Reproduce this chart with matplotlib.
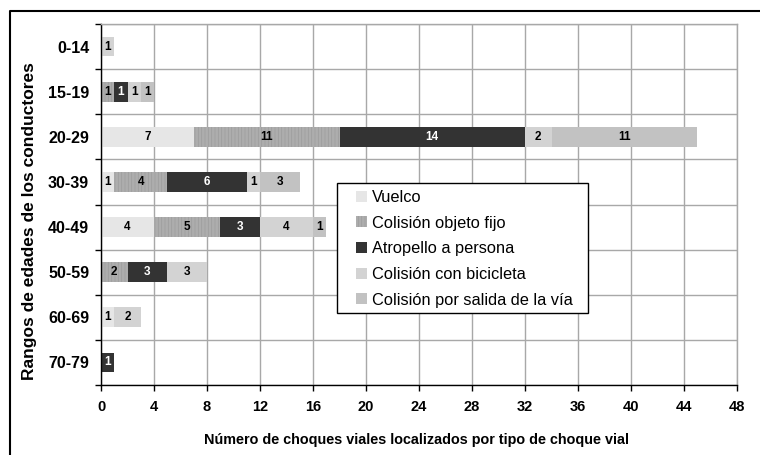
import matplotlib
matplotlib.use('Agg')
import matplotlib.pyplot as plt
from matplotlib.patches import Rectangle
from matplotlib.lines import Line2D
from matplotlib import font_manager

age_groups = ['0-14', '15-19', '20-29', '30-39', '40-49', '50-59', '60-69', '70-79']
series_names = ['Vuelco', 'Colisión objeto fijo', 'Atropello a persona',
                'Colisión con bicicleta', 'Colisión por salida de la vía']
vuelco = [0, 0, 7, 1, 4, 0, 1, 0]
objeto_fijo = [0, 1, 11, 4, 5, 2, 0, 0]
atropello = [0, 1, 14, 6, 3, 3, 0, 1]
bicicleta = [1, 1, 2, 1, 4, 3, 2, 0]
salida_via = [0, 1, 11, 3, 1, 0, 0, 0]
x_ticks = list(range(0, 49, 4))

series_values = [vuelco, objeto_fijo, atropello, bicicleta, salida_via]
colors = ['#e6e6e6', '#adadad', '#333333', '#d3d3d3', '#c2c2c2']
hatches = [None, '|||||', None, None, None]
text_colors = ['black', 'black', 'white', 'black', 'black']

plt.rcParams['font.family'] = ['Liberation Sans', 'DejaVu Sans']
plt.rcParams['hatch.linewidth'] = 0.5

W, H = 760, 455
fig = plt.figure(figsize=(W / 100, H / 100), dpi=100)
ax = fig.add_axes([101 / W, (H - 385) / H, (737 - 101) / W, (385 - 24) / H])

ypos = list(range(len(age_groups)))
left = [0] * len(age_groups)
handles = []
for vals, name, col, hat, tc in zip(series_values, series_names, colors, hatches, text_colors):
    if hat:
        kw = dict(hatch=hat, edgecolor='#9c9c9c', linewidth=0)
    else:
        kw = dict(edgecolor='none', linewidth=0)
    bars = ax.barh(ypos, vals, left=left, height=0.44, color=col, label=name, **kw)
    handles.append(bars)
    for i, v in enumerate(vals):
        if v > 0:
            ax.text(left[i] + v / 2, i, str(v), ha='center', va='center',
                    fontsize=8.5, fontweight='bold', color=tc)
    left = [l + v for l, v in zip(left, vals)]

ax.set_xlim(0, 48)
ax.set_ylim(len(age_groups) - 0.5, -0.5)
ax.set_xticks(x_ticks)
ax.set_yticks(ypos)
ax.set_yticklabels(age_groups, fontsize=11.5, fontweight='bold')
ax.set_yticks([i - 0.5 for i in range(len(age_groups) + 1)], minor=True)
ax.tick_params(axis='y', which='major', length=0, pad=8.5)
ax.tick_params(axis='y', which='minor', length=4, width=1, direction='out', color='black')

xfp = font_manager.FontProperties(family='Liberation Sans', size=10.5, weight='bold')
xlfp = font_manager.FontProperties(family='Liberation Sans', size=10.4, weight='bold')
ax.tick_params(axis='x', which='major', length=4, width=1, direction='out', pad=6.5)
for lab in ax.get_xticklabels():
    lab.set_fontproperties(xfp)

ax.set_axisbelow(True)
ax.grid(True, axis='x', which='major', color='#a8a8a8', linewidth=1.0)
ax.grid(True, axis='y', which='minor', color='#a8a8a8', linewidth=1.0)
ax.grid(False, axis='y', which='major')

for s in ['left', 'bottom']:
    ax.spines[s].set_color('black')
    ax.spines[s].set_linewidth(1.0)
for s in ['right', 'top']:
    ax.spines[s].set_color('#a8a8a8')
    ax.spines[s].set_linewidth(1.0)

fig.text(416 / W, 1 - 440 / H, 'Número de choques viales localizados por tipo de choque vial',
         ha='center', va='center', fontproperties=xlfp)

fig.text(30 / W, 1 - 221 / H, 'Rangos de edades de los conductores', rotation=90,
         ha='center', va='center', fontsize=12.5, fontweight='bold')

# legend box
rect = Rectangle((337 / W, 1 - 313 / H), (588 - 337) / W, (313 - 183) / H,
                 transform=fig.transFigure, facecolor='white', edgecolor='black',
                 linewidth=1.0, zorder=4, clip_on=False)
ax.add_patch(rect)
leg = ax.legend(handles, series_names, loc='upper left',
                bbox_to_anchor=(356 / W, 1 - 190 / H), bbox_transform=fig.transFigure,
                frameon=False, borderpad=0, borderaxespad=0, handlelength=0.67,
                handleheight=0.67, handletextpad=0.3, labelspacing=0.65,
                prop={'family': 'Liberation Sans', 'size': 11.8})
leg.set_zorder(5)

# outer frame
fig.add_artist(Line2D([10 / W, 10 / W, 1], [0, 1 - 11 / H, 1 - 11 / H],
                      transform=fig.transFigure, color='black', linewidth=1.5))

fig.savefig('out.png', dpi=100)
